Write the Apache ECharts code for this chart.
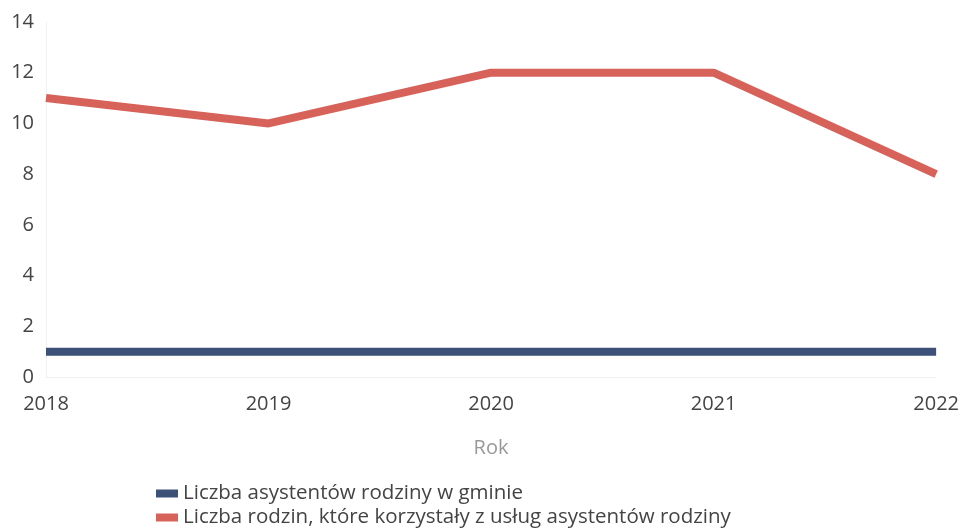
<!DOCTYPE html>
<html>
<head>
<meta charset="utf-8">
<script src="https://cdn.jsdelivr.net/npm/echarts@6/dist/echarts.min.js"></script>
<style>
  html, body { margin: 0; padding: 0; background: #fff; }
  #chart { width: 962px; height: 528px; }
</style>
</head>
<body>
<div id="chart"></div>
<script>
// dane
var years = ['2018', '2019', '2020', '2021', '2022'];
var asystenci = [1, 1, 1, 1, 1];
var rodziny = [11, 10, 12, 12, 8];
var seriesNames = ['Liczba asystentów rodziny w gminie', 'Liczba rodzin, które korzystały z usług asystentów rodziny'];

var chart = echarts.init(document.getElementById('chart'));
var font = '"Open Sans", "Noto Sans", sans-serif';

function legendItem(name, top) {
  return {
    data: [name],
    left: 151,
    top: top,
    icon: 'rect',
    itemWidth: 22,
    itemHeight: 8,
    textStyle: { fontSize: 20.5, color: '#444', fontFamily: font }
  };
}

chart.setOption({
  animation: false,
  textStyle: { fontFamily: font },
  grid: { left: 46, right: 25, top: 22, bottom: 151 },
  legend: [legendItem(seriesNames[0], 478), legendItem(seriesNames[1], 502)],
  xAxis: {
    type: 'category',
    data: years,
    boundaryGap: false,
    name: 'Rok',
    nameLocation: 'middle',
    nameGap: 61,
    nameTextStyle: { fontSize: 20, color: '#999' },
    axisLine: { lineStyle: { color: '#f0f0f0' } },
    axisTick: { show: false },
    axisLabel: { fontSize: 20, color: '#444', margin: 17 }
  },
  yAxis: {
    type: 'value',
    min: 0,
    max: 14,
    interval: 2,
    axisLine: { show: true, lineStyle: { color: '#f0f0f0' } },
    axisTick: { show: false },
    splitLine: { show: false },
    axisLabel: { fontSize: 20, color: '#444', margin: 12 }
  },
  series: [
    {
      name: seriesNames[0],
      type: 'line',
      data: asystenci,
      symbol: 'none',
      itemStyle: { color: '#3c5078' },
      lineStyle: { color: '#3c5078', width: 8 }
    },
    {
      name: seriesNames[1],
      type: 'line',
      data: rodziny,
      symbol: 'none',
      itemStyle: { color: '#d7625a' },
      lineStyle: { color: '#d7625a', width: 8 }
    }
  ]
});
</script>
</body>
</html>
